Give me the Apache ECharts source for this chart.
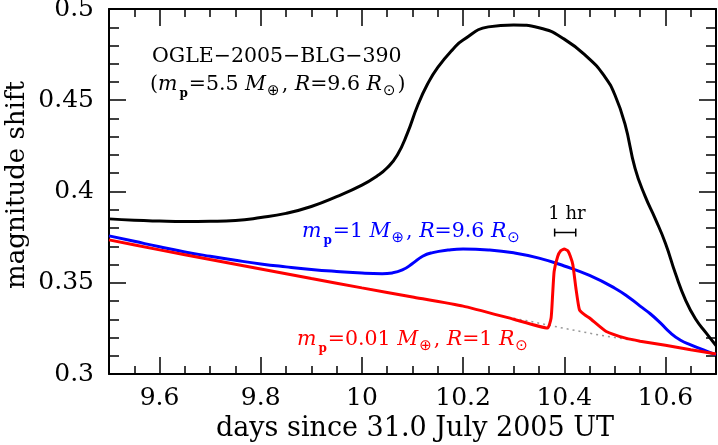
<!DOCTYPE html>
<html>
<head>
<meta charset="utf-8">
<script src="https://cdn.jsdelivr.net/npm/echarts@6/dist/echarts.min.js"></script>
<style>
  html, body { margin: 0; padding: 0; background: #fff; }
  #main { width: 718px; height: 445px; }
</style>
</head>
<body>
<div id="main"></div>
<script>
// values
var majorDays = [9.6, 9.8, 10, 10.2, 10.4, 10.6]

// OGLE-2005-BLG-390 (5.5 Earth masses)
var blackDays = [9.50, 9.55, 9.60, 9.65, 9.70, 9.75, 9.80, 9.85, 9.90, 9.95, 10.00, 10.03, 10.05, 10.07, 10.09, 10.11, 10.13, 10.15, 10.18, 10.20, 10.25, 10.30, 10.35, 10.40, 10.45, 10.48, 10.50, 10.52, 10.54, 10.56, 10.58, 10.60, 10.62, 10.64, 10.66, 10.68, 10.70]
var blackMag = [0.3850, 0.3842, 0.3838, 0.3836, 0.3837, 0.3841, 0.3857, 0.3880, 0.3918, 0.3972, 0.4035, 0.4085, 0.4130, 0.4200, 0.4320, 0.4470, 0.4590, 0.4680, 0.4780, 0.4830, 0.4902, 0.4913, 0.4897, 0.4835, 0.4725, 0.4630, 0.4530, 0.4370, 0.4127, 0.3973, 0.3850, 0.3717, 0.3549, 0.3404, 0.3300, 0.3227, 0.3156]

// 1 Earth mass, R = 9.6 Rsun
var blueDays = [9.50, 9.55, 9.60, 9.65, 9.70, 9.75, 9.80, 9.85, 9.90, 9.95, 10.00, 10.04, 10.06, 10.08, 10.10, 10.12, 10.14, 10.17, 10.20, 10.25, 10.30, 10.35, 10.40, 10.45, 10.50, 10.53, 10.55, 10.57, 10.59, 10.61, 10.63, 10.65, 10.68, 10.70]
var blueMag = [0.3757, 0.3727, 0.3697, 0.3669, 0.3645, 0.3623, 0.3603, 0.3587, 0.3573, 0.3562, 0.3553, 0.3550, 0.3554, 0.3570, 0.3605, 0.3645, 0.3665, 0.3679, 0.3685, 0.3680, 0.3664, 0.3635, 0.3592, 0.3540, 0.3470, 0.3415, 0.3372, 0.3330, 0.3280, 0.3225, 0.3185, 0.3160, 0.3127, 0.3106]

// 0.01 Earth mass, R = 1 Rsun
var redDays = [9.50, 9.60, 9.70, 9.80, 9.90, 10.00, 10.10, 10.20, 10.30, 10.367, 10.374, 10.377, 10.380, 10.387, 10.393, 10.400, 10.407, 10.412, 10.417, 10.423, 10.430, 10.440, 10.450, 10.483, 10.523, 10.55, 10.60, 10.65, 10.70]
var redMag = [0.3735, 0.3680, 0.3627, 0.3575, 0.3523, 0.3472, 0.3422, 0.3372, 0.3300, 0.3252, 0.3307, 0.3434, 0.3562, 0.3644, 0.3675, 0.3685, 0.3675, 0.3645, 0.3599, 0.3471, 0.3352, 0.3325, 0.3307, 0.3233, 0.3195, 0.3180, 0.3157, 0.3133, 0.3110]

// no-planet baseline (dotted)
var baseDays = [10.30, 10.33, 10.40, 10.47, 10.55, 10.60]
var baseMag = [0.3305, 0.3290, 0.3250, 0.3213, 0.3178, 0.3157]

// one hour scale bar
var hourDays = [10.381, 10.4227]
var hourMag = [0.3775, 0.3775]

function pairs (xs, ys) {
  var out = []
  for (var i = 0; i < xs.length; i++) {
    out.push([xs[i], ys[i]])
  }
  return out
}

var serif = 'DejaVu Serif'
var black = '#000'

function textRich (size) {
  return {
    it: { fontFamily: serif, fontSize: size, fontStyle: 'italic' },
    rm: { fontFamily: serif, fontSize: size },
    sb: { fontFamily: serif, fontSize: 12, fontWeight: 'bold', padding: [18, 1, 0, 2] },
    sy: { fontFamily: 'DejaVu Sans', fontSize: 15, padding: [13, 2, 0, 1] }
  }
}

function xAxisCfg (gridIndex, position, major) {
  var cfg = {
    type: 'value',
    gridIndex: gridIndex,
    position: position,
    min: 9.5,
    max: 10.7,
    splitLine: { show: false },
    axisLine: { show: major, onZero: false, lineStyle: { color: black, width: 2 } },
    axisLabel: { show: false },
    axisTick: { show: true, inside: true, length: major ? 17 : 8, lineStyle: { color: black, width: 1.5 } }
  }
  if (major) {
    cfg.axisTick.customValues = majorDays
  } else {
    cfg.interval = 0.05
  }
  return cfg
}

function yAxisCfg (position, withLabels) {
  var cfg = {
    type: 'value',
    gridIndex: 0,
    position: position,
    min: 0.3,
    max: 0.5,
    interval: 0.05,
    splitLine: { show: false },
    axisLine: { show: true, onZero: false, lineStyle: { color: black, width: 2 } },
    axisTick: { show: true, inside: true, length: 17, lineStyle: { color: black, width: 1.5 } },
    minorTick: { show: true, splitNumber: 5, length: 10, lineStyle: { color: black, width: 1.5 } },
    axisLabel: { show: false }
  }
  if (withLabels) {
    cfg.axisLabel = { show: true, fontFamily: serif, fontSize: 25, color: black, margin: 15 }
  }
  return cfg
}

var chart = echarts.init(document.getElementById('main'))

var xBottom = xAxisCfg(0, 'bottom', true)
xBottom.axisLabel = {
  show: true,
  customValues: majorDays,
  fontFamily: serif,
  fontSize: 25,
  color: black,
  margin: 12
}

var option = {
  animation: false,
  grid: [
    { left: 109, right: 2, top: 9, bottom: 71, outerBoundsMode: 'none' },
    { left: 109, right: 2, top: 9, bottom: 71, outerBoundsMode: 'none' }
  ],
  xAxis: [
    xBottom,
    xAxisCfg(0, 'top', true),
    xAxisCfg(1, 'bottom', false),
    xAxisCfg(1, 'top', false)
  ],
  yAxis: [
    yAxisCfg('left', true),
    yAxisCfg('right', false),
    { type: 'value', gridIndex: 1, min: 0.3, max: 0.5, show: false }
  ],
  series: [
    {
      type: 'line', xAxisIndex: 0, yAxisIndex: 0,
      data: pairs(baseDays, baseMag),
      showSymbol: false,
      lineStyle: { color: '#999', width: 1.5, type: [2, 4] }
    },
    {
      type: 'line', xAxisIndex: 0, yAxisIndex: 0,
      data: pairs(blackDays, blackMag),
      showSymbol: false, smooth: true,
      lineStyle: { color: black, width: 3 }
    },
    {
      type: 'line', xAxisIndex: 0, yAxisIndex: 0,
      data: pairs(blueDays, blueMag),
      showSymbol: false, smooth: true,
      lineStyle: { color: '#0000ff', width: 3 }
    },
    {
      type: 'line', xAxisIndex: 0, yAxisIndex: 0,
      data: pairs(redDays, redMag),
      showSymbol: false, smooth: 0.15,
      lineStyle: { color: '#ff0000', width: 3 }
    },
    {
      type: 'line', xAxisIndex: 0, yAxisIndex: 0,
      data: pairs(hourDays, hourMag),
      symbol: 'rect', symbolSize: [1.5, 8], showSymbol: true,
      itemStyle: { color: black },
      lineStyle: { color: black, width: 1.5 }
    }
  ],
  graphic: [
    // axis titles
    {
      type: 'text', x: 415, y: 429,
      style: { text: 'days since 31.0 July 2005 UT', fontFamily: serif, fontSize: 27, fill: black, align: 'center', verticalAlign: 'middle' }
    },
    {
      type: 'text', x: 17, y: 185, rotation: Math.PI / 2,
      style: { text: 'magnitude shift', fontFamily: serif, fontSize: 26, fill: black, align: 'center', verticalAlign: 'middle' }
    },
    {
      type: 'text', x: 152, y: 57,
      style: { text: 'OGLE\u22122005\u2212BLG\u2212390', fontFamily: serif, fontSize: 20.5, fill: black, verticalAlign: 'middle' }
    },
    {
      type: 'text', x: 150, y: 85,
      style: {
        text: '{rm|(}{it|m}{sb|p}{rm|=5.5 }{it|M}{sy|\u2295}{rm|, }{it|R}{rm|=9.6 }{it|R}{sy|\u2299}{rm|)}',
        rich: textRich(20.5), fill: black, verticalAlign: 'middle'
      }
    },
    {
      type: 'text', x: 302, y: 232,
      style: {
        text: '{it|m}{sb|p}{rm|=1 }{it|M}{sy|\u2295}{rm|, }{it|R}{rm|=9.6 }{it|R}{sy|\u2299}',
        rich: textRich(20.5), fill: '#0000ff', verticalAlign: 'middle'
      }
    },
    {
      type: 'text', x: 297, y: 340,
      style: {
        text: '{it|m}{sb|p}{rm|=0.01 }{it|M}{sy|\u2295}{rm|, }{it|R}{rm|=1 }{it|R}{sy|\u2299}',
        rich: textRich(20.5), fill: '#ff0000', verticalAlign: 'middle'
      }
    },
    {
      type: 'text', x: 567, y: 214,
      style: { text: '1 hr', fontFamily: serif, fontSize: 18, fill: black, align: 'center', verticalAlign: 'middle' }
    }
  ]
}

chart.setOption(option)
</script>
</body>
</html>
